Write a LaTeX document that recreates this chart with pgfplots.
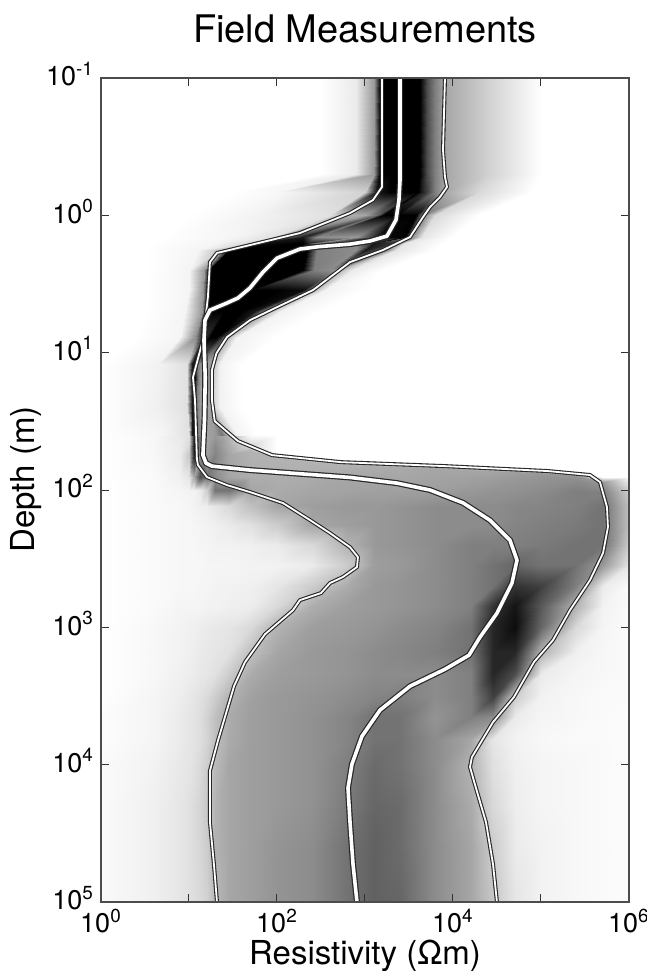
\documentclass[border=0pt]{standalone}
\usepackage{fontspec}
\setmainfont{TeX Gyre Heros}
\usepackage{pgfplots}
\usepackage{pgfplotstable}
\pgfplotsset{compat=1.18}
\pgfplotsset{colormap={bw}{gray(0cm)=(1); gray(1cm)=(0)}}

\pgfplotstableread{
x y
1560 0.1
1560 0.622
1233 0.774
676 0.962
182 1.346
20.8 1.88
17.3 2.19
16.4 3.94
14.4 8.09
11.1 15.1
11.7 22.1
12.3 59.6
12.65 65.9
16.0 80.5
27.0 92.1
49.3 103.5
117 124.5
237 165.5
400 206
676 261
832 308
811 364
562 430
400 476
316 563
182 634
152 750
73.1 1122
43.3 1791
32.5 2682
27 4010
21.4 6630
17.3 11100
17.3 26200
19.2 53000
20.8 100000
}\lbound

\pgfplotstableread{
x y
2500 0.1
2500 0.553
2432 0.774
2249 1.08
1778 1.416
1140 1.538
676 1.62
300 1.69
182 1.76
100 2.05
69.3 2.59
49.3 3.38
36.0 4.0
27.0 4.35
17.3 4.9
15.2 5.8
14.8 8.1
15.3 15.1
15.0 31
14.4 55.7
15.6 63.7
18.25 67
49.3 71.6
400 79
676 81
2312 89.1
5480 100
13000 124
26300 166
44400 232
53400 324
46800 477
31600 789
20300 1178
15200 1596
8110 2018
3245 2682
1479 4010
925 6200
711 9910
641 14800
676 26200
731 53000
811 100000
}\median

\pgfplotstableread{
x y
8110 0.1
7700 0.334
8110 0.526
8550 0.622
7110 0.736
5480 0.871
4560 1.03
3245 1.44
1600 1.79
676 2.19
257 3.5
100 4.66
49.3 5.8
27 7.7
20.5 10.1
18.2 13.4
18.2 22.1
19.6 31.5
36 44
87.7 55.7
534 62.7
8110 67
120000 72.8
360600 77.8
468000 87.5
562000 133
577000 186
507000 288
360600 453
213800 750
136800 1240
83200 1791
49300 3220
28500 4900
16400 8810
15600 10400
18250 14800
23700 26200
28500 53000
31600 100000
}\rbound

\begin{document}
\begin{tikzpicture}
\begin{axis}[
  scale only axis, width=264pt, height=412pt,
  xmode=log, ymode=log, log basis x=10, log basis y=10,
  xmin=1, xmax=1e6, ymin=0.1, ymax=1e5, y dir=reverse,
  xtick={1,10,100,1000,10000,100000,1000000},
  xticklabels={10\textsuperscript{0},,10\textsuperscript{2},,10\textsuperscript{4},,10\textsuperscript{6}},
  ytick={0.1,1,10,100,1000,10000,100000},
  yticklabels={10\textsuperscript{-1},10\textsuperscript{0},10\textsuperscript{1},10\textsuperscript{2},10\textsuperscript{3},10\textsuperscript{4},10\textsuperscript{5}},
  xminorticks=false,
  tick align=inside, major tick length=4pt, minor tick length=2pt,
  every tick/.style={black!80, line width=0.5pt},
  axis line style={black!70, line width=0.6pt},
  ticklabel style={font=\fontsize{13.5}{15}\selectfont},
  yticklabel style={yshift=2pt},
  colormap name=bw, point meta min=0, point meta max=1,
  axis on top,
  title={Field Measurements},
  every axis title/.style={at={(0.5,1)}, anchor=base, yshift=18pt, font=\fontsize{19}{22}\selectfont},
  xlabel={Resistivity (Ωm)},
  every axis x label/.style={at={(axis description cs:0.5,0)}, anchor=base, yshift=-31pt, font=\fontsize{16.5}{19}\selectfont},
  ylabel={Depth (m)},
  every axis y label/.style={at={(axis description cs:-0.142,0.513)}, rotate=90, anchor=center, font=\fontsize{16.5}{19}\selectfont},
]
% lower density field
\addplot[surf, shader=interp, mesh/cols=23, point meta=explicit] coordinates {
(1,40)[0] (3.981,40)[0.03] (7.943,40)[0.09] (10,40)[0.12] (11.48,40)[0.93] (13.18,40)[0.45] (15.85,40)[0.36] (19.95,40)[0.4] (28.18,40)[0.3] (50.12,40)[0.01] (100,40)[0] (251.2,40)[0] (631,40)[0] (1259,40)[0] (2512,40)[0] (6310,40)[0] (15849,40)[0] (28184,40)[0] (50119,40)[0] (100000,40)[0] (251189,40)[0] (501187,40)[0] (1000000,40)[0]
(1,47)[0] (3.981,47)[0.03] (7.943,47)[0.08] (10,47)[0.15] (11.48,47)[0.92] (13.18,47)[0.45] (15.85,47)[0.36] (19.95,47)[0.45] (28.18,47)[0.32] (50.12,47)[0.15] (100,54)[0] (251.2,58)[0] (631,61)[0] (1259,62)[0] (2512,63.3)[0] (6310,64.5)[0] (15849,66.3)[0] (28184,67.6)[0] (50119,68.7)[0] (100000,70)[0] (251189,73.5)[0] (501187,80)[0] (1000000,80)[0]
(1,55)[0] (3.981,55)[0.03] (7.943,55)[0.08] (10,55)[0.22] (11.48,55)[0.9] (13.18,55)[0.4] (15.85,55)[0.38] (19.95,55)[0.48] (28.18,55)[0.35] (50.12,52)[0.3] (100,58)[0.3] (251.2,62.5)[0.3] (631,65.5)[0.3] (1259,66.5)[0.32] (2512,68)[0.33] (6310,69.3)[0.35] (15849,71.3)[0.35] (28184,72.8)[0.35] (50119,74)[0.38] (100000,75.5)[0.4] (251189,79.5)[0.42] (501187,88)[0.4] (1000000,88)[0.08]
(1,80)[0] (3.981,80)[0.02] (7.943,80)[0.06] (10,80)[0.1] (11.48,80)[0.35] (13.18,80)[0.7] (15.85,80)[0.55] (19.95,80)[0.45] (28.18,80)[0.35] (50.12,80)[0.32] (100,80)[0.32] (251.2,80)[0.33] (631,80)[0.35] (1259,80)[0.35] (2512,80)[0.35] (6310,80)[0.36] (15849,80)[0.37] (28184,80)[0.38] (50119,80)[0.4] (100000,80)[0.42] (251189,85)[0.45] (501187,95)[0.45] (1000000,95)[0.15]
(1,100)[0] (3.981,100)[0.02] (7.943,100)[0.04] (10,100)[0.05] (11.48,100)[0.05] (13.18,100)[0.08] (15.85,100)[0.2] (19.95,100)[0.55] (28.18,100)[0.55] (50.12,100)[0.35] (100,100)[0.33] (251.2,100)[0.35] (631,100)[0.36] (1259,100)[0.37] (2512,100)[0.37] (6310,100)[0.38] (15849,100)[0.4] (28184,100)[0.42] (50119,100)[0.43] (100000,100)[0.45] (251189,100)[0.5] (501187,105)[0.5] (1000000,105)[0.2]
(1,130)[0] (3.981,130)[0.02] (7.943,130)[0.03] (10,130)[0.04] (11.48,130)[0.05] (13.18,130)[0.06] (15.85,130)[0.07] (19.95,130)[0.1] (28.18,130)[0.15] (50.12,130)[0.25] (100,130)[0.35] (251.2,130)[0.38] (631,130)[0.4] (1259,130)[0.4] (2512,130)[0.42] (6310,130)[0.45] (15849,130)[0.45] (28184,130)[0.45] (50119,130)[0.47] (100000,130)[0.48] (251189,130)[0.5] (501187,130)[0.55] (1000000,130)[0.25]
(1,180)[0] (3.981,180)[0.02] (7.943,180)[0.03] (10,180)[0.03] (11.48,180)[0.04] (13.18,180)[0.04] (15.85,180)[0.05] (19.95,180)[0.06] (28.18,180)[0.08] (50.12,180)[0.12] (100,180)[0.2] (251.2,180)[0.35] (631,180)[0.38] (1259,180)[0.4] (2512,180)[0.42] (6310,180)[0.45] (15849,180)[0.45] (28184,180)[0.45] (50119,180)[0.48] (100000,180)[0.5] (251189,180)[0.52] (501187,180)[0.55] (1000000,180)[0.25]
(1,250)[0] (3.981,250)[0.02] (7.943,250)[0.03] (10,250)[0.03] (11.48,250)[0.03] (13.18,250)[0.04] (15.85,250)[0.04] (19.95,250)[0.05] (28.18,250)[0.05] (50.12,250)[0.06] (100,250)[0.08] (251.2,250)[0.15] (631,250)[0.3] (1259,250)[0.4] (2512,250)[0.42] (6310,250)[0.45] (15849,250)[0.5] (28184,250)[0.5] (50119,250)[0.5] (100000,250)[0.52] (251189,250)[0.55] (501187,250)[0.55] (1000000,250)[0.2]
(1,350)[0] (3.981,350)[0.02] (7.943,350)[0.03] (10,350)[0.03] (11.48,350)[0.03] (13.18,350)[0.03] (15.85,350)[0.04] (19.95,350)[0.04] (28.18,350)[0.04] (50.12,350)[0.05] (100,350)[0.05] (251.2,350)[0.08] (631,350)[0.2] (1259,350)[0.38] (2512,350)[0.4] (6310,350)[0.45] (15849,350)[0.5] (28184,350)[0.55] (50119,350)[0.6] (100000,350)[0.55] (251189,350)[0.55] (501187,350)[0.4] (1000000,350)[0.1]
(1,500)[0] (3.981,500)[0.02] (7.943,500)[0.03] (10,500)[0.03] (11.48,500)[0.03] (13.18,500)[0.04] (15.85,500)[0.04] (19.95,500)[0.05] (28.18,500)[0.05] (50.12,500)[0.06] (100,500)[0.1] (251.2,500)[0.2] (631,500)[0.33] (1259,500)[0.4] (2512,500)[0.42] (6310,500)[0.45] (15849,500)[0.5] (28184,500)[0.55] (50119,500)[0.8] (100000,500)[0.75] (251189,500)[0.5] (501187,500)[0.08] (1000000,500)[0.02]
(1,700)[0] (3.981,700)[0.02] (7.943,700)[0.04] (10,700)[0.04] (11.48,700)[0.04] (13.18,700)[0.04] (15.85,700)[0.05] (19.95,700)[0.05] (28.18,700)[0.06] (50.12,700)[0.07] (100,700)[0.15] (251.2,700)[0.32] (631,700)[0.38] (1259,700)[0.4] (2512,700)[0.42] (6310,700)[0.45] (15849,700)[0.5] (28184,700)[0.8] (50119,700)[0.92] (100000,700)[0.65] (251189,700)[0.3] (501187,700)[0.05] (1000000,700)[0.02]
(1,1000)[0] (3.981,1000)[0.03] (7.943,1000)[0.05] (10,1000)[0.06] (11.48,1000)[0.06] (13.18,1000)[0.07] (15.85,1000)[0.08] (19.95,1000)[0.09] (28.18,1000)[0.1] (50.12,1000)[0.15] (100,1000)[0.3] (251.2,1000)[0.38] (631,1000)[0.4] (1259,1000)[0.42] (2512,1000)[0.45] (6310,1000)[0.48] (15849,1000)[0.55] (28184,1000)[0.85] (50119,1000)[0.95] (100000,1000)[0.6] (251189,1000)[0.15] (501187,1000)[0.04] (1000000,1000)[0.02]
(1,1500)[0] (3.981,1500)[0.03] (7.943,1500)[0.05] (10,1500)[0.06] (11.48,1500)[0.07] (13.18,1500)[0.08] (15.85,1500)[0.09] (19.95,1500)[0.1] (28.18,1500)[0.12] (50.12,1500)[0.25] (100,1500)[0.35] (251.2,1500)[0.4] (631,1500)[0.42] (1259,1500)[0.45] (2512,1500)[0.47] (6310,1500)[0.5] (15849,1500)[0.55] (28184,1500)[0.85] (50119,1500)[0.85] (100000,1500)[0.3] (251189,1500)[0.06] (501187,1500)[0.03] (1000000,1500)[0.02]
(1,2200)[0] (3.981,2200)[0.03] (7.943,2200)[0.06] (10,2200)[0.07] (11.48,2200)[0.08] (13.18,2200)[0.09] (15.85,2200)[0.1] (19.95,2200)[0.12] (28.18,2200)[0.2] (50.12,2200)[0.33] (100,2200)[0.38] (251.2,2200)[0.4] (631,2200)[0.42] (1259,2200)[0.45] (2512,2200)[0.45] (6310,2200)[0.45] (15849,2200)[0.5] (28184,2200)[0.85] (50119,2200)[0.7] (100000,2200)[0.08] (251189,2200)[0.04] (501187,2200)[0.03] (1000000,2200)[0.02]
(1,3200)[0] (3.981,3200)[0.04] (7.943,3200)[0.07] (10,3200)[0.09] (11.48,3200)[0.1] (13.18,3200)[0.12] (15.85,3200)[0.15] (19.95,3200)[0.2] (28.18,3200)[0.3] (50.12,3200)[0.37] (100,3200)[0.4] (251.2,3200)[0.42] (631,3200)[0.45] (1259,3200)[0.48] (2512,3200)[0.5] (6310,3200)[0.45] (15849,3200)[0.5] (28184,3200)[0.75] (50119,3200)[0.2] (100000,3200)[0.05] (251189,3200)[0.03] (501187,3200)[0.02] (1000000,3200)[0.02]
(1,4500)[0.01] (3.981,4500)[0.04] (7.943,4500)[0.08] (10,4500)[0.1] (11.48,4500)[0.11] (13.18,4500)[0.13] (15.85,4500)[0.18] (19.95,4500)[0.25] (28.18,4500)[0.33] (50.12,4500)[0.38] (100,4500)[0.4] (251.2,4500)[0.43] (631,4500)[0.48] (1259,4500)[0.55] (2512,4500)[0.55] (6310,4500)[0.42] (15849,4500)[0.5] (28184,4500)[0.45] (50119,4500)[0.08] (100000,4500)[0.04] (251189,4500)[0.03] (501187,4500)[0.02] (1000000,4500)[0.01]
(1,6500)[0.01] (3.981,6500)[0.04] (7.943,6500)[0.08] (10,6500)[0.1] (11.48,6500)[0.11] (13.18,6500)[0.13] (15.85,6500)[0.17] (19.95,6500)[0.25] (28.18,6500)[0.33] (50.12,6500)[0.38] (100,6500)[0.4] (251.2,6500)[0.43] (631,6500)[0.48] (1259,6500)[0.55] (2512,6500)[0.55] (6310,6500)[0.45] (15849,6500)[0.35] (28184,6500)[0.1] (50119,6500)[0.05] (100000,6500)[0.03] (251189,6500)[0.02] (501187,6500)[0.02] (1000000,6500)[0.01]
(1,10000)[0.02] (3.981,10000)[0.05] (7.943,10000)[0.09] (10,10000)[0.1] (11.48,10000)[0.12] (13.18,10000)[0.15] (15.85,10000)[0.2] (19.95,10000)[0.27] (28.18,10000)[0.35] (50.12,10000)[0.38] (100,10000)[0.4] (251.2,10000)[0.43] (631,10000)[0.5] (1259,10000)[0.58] (2512,10000)[0.55] (6310,10000)[0.45] (15849,10000)[0.3] (28184,10000)[0.12] (50119,10000)[0.06] (100000,10000)[0.04] (251189,10000)[0.03] (501187,10000)[0.02] (1000000,10000)[0.01]
(1,20000)[0.02] (3.981,20000)[0.06] (7.943,20000)[0.1] (10,20000)[0.12] (11.48,20000)[0.14] (13.18,20000)[0.17] (15.85,20000)[0.22] (19.95,20000)[0.3] (28.18,20000)[0.35] (50.12,20000)[0.38] (100,20000)[0.4] (251.2,20000)[0.43] (631,20000)[0.52] (1259,20000)[0.6] (2512,20000)[0.58] (6310,20000)[0.45] (15849,20000)[0.33] (28184,20000)[0.15] (50119,20000)[0.07] (100000,20000)[0.04] (251189,20000)[0.03] (501187,20000)[0.02] (1000000,20000)[0.01]
(1,40000)[0.02] (3.981,40000)[0.06] (7.943,40000)[0.1] (10,40000)[0.12] (11.48,40000)[0.14] (13.18,40000)[0.16] (15.85,40000)[0.2] (19.95,40000)[0.3] (28.18,40000)[0.35] (50.12,40000)[0.38] (100,40000)[0.42] (251.2,40000)[0.45] (631,40000)[0.55] (1259,40000)[0.62] (2512,40000)[0.58] (6310,40000)[0.45] (15849,40000)[0.35] (28184,40000)[0.2] (50119,40000)[0.08] (100000,40000)[0.05] (251189,40000)[0.03] (501187,40000)[0.02] (1000000,40000)[0.01]
(1,100000)[0.02] (3.981,100000)[0.06] (7.943,100000)[0.1] (10,100000)[0.12] (11.48,100000)[0.13] (13.18,100000)[0.15] (15.85,100000)[0.18] (19.95,100000)[0.28] (28.18,100000)[0.35] (50.12,100000)[0.38] (100,100000)[0.42] (251.2,100000)[0.45] (631,100000)[0.55] (1259,100000)[0.62] (2512,100000)[0.6] (6310,100000)[0.45] (15849,100000)[0.35] (28184,100000)[0.22] (50119,100000)[0.1] (100000,100000)[0.05] (251189,100000)[0.03] (501187,100000)[0.02] (1000000,100000)[0.01]
};
% upper density band
\addplot[surf, shader=interp, mesh/cols=12, point meta=explicit] coordinates {
(316.2,0.1)[0] (794.3,0.1)[0.08] (1259,0.1)[0.4] (1479,0.1)[1] (1995,0.1)[1] (2818,0.1)[1] (4169,0.1)[1] (5012,0.1)[0.7] (6310,0.1)[0.5] (8128,0.1)[0.35] (25119,0.1)[0.18] (100000,0.1)[0]
(316.2,0.5)[0] (794.3,0.5)[0.08] (1259,0.5)[0.4] (1479,0.5)[1] (1995,0.5)[1] (2818,0.5)[1] (4169,0.5)[1] (5012,0.5)[0.7] (6310,0.5)[0.5] (8128,0.5)[0.35] (25119,0.5)[0.18] (100000,0.5)[0]
(31.62,0.68)[0] (100,0.68)[0.03] (1000,0.68)[0.18] (1349,0.68)[0.9] (1995,0.68)[1] (2818,0.68)[1] (3981,0.68)[1] (4786,0.68)[0.8] (6310,0.68)[0.5] (7762,0.68)[0.35] (19953,0.68)[0.15] (79433,0.68)[0]
(10,1)[0] (63.10,1)[0.05] (398.1,1)[0.12] (575.4,1)[0.3] (1000,1)[0.35] (1380,1)[0.6] (1585,1)[1] (2344,1)[1] (3802,1)[1] (4467,1)[0.55] (6310,1)[0.15] (19953,1)[0]
(5.012,1.44)[0] (31.62,1.44)[0.04] (89.13,1.44)[0.12] (117.5,1.44)[0.6] (199.5,1.44)[0.9] (281.8,1.44)[0.45] (794.3,1.44)[0.4] (1479,1.44)[0.95] (2818,1.44)[1] (3236,1.44)[0.5] (4467,1.44)[0.1] (10000,1.44)[0]
(3.548,1.6)[0] (19.95,1.6)[0.04] (47.86,1.6)[0.15] (60.26,1.6)[0.95] (199.5,1.6)[1] (218.8,1.6)[0.9] (281.8,1.6)[0.45] (794.3,1.6)[0.45] (1259,1.6)[0.9] (1995,1.6)[0.8] (2818,1.6)[0.1] (7943,1.6)[0]
(3.162,1.8)[0] (12.59,1.8)[0.04] (22.39,1.8)[0.25] (28.18,1.8)[1] (177.8,1.8)[1] (218.8,1.8)[1] (281.8,1.8)[0.5] (794.3,1.8)[0.45] (1000,1.8)[0.9] (1585,1.8)[0.6] (2239,1.8)[0.1] (6310,1.8)[0]
(3.162,2.5)[0] (10,2.5)[0.04] (14.79,2.5)[0.4] (16.98,2.5)[1] (75.86,2.5)[1] (199.5,2.5)[1] (263.0,2.5)[0.5] (398.1,2.5)[0.45] (478.6,2.5)[0.4] (512.9,2.5)[0.3] (707.9,2.5)[0.08] (1585,2.5)[0]
(3.162,3.5)[0] (10,3.5)[0.04] (14.45,3.5)[0.4] (16.60,3.5)[1] (31.62,3.5)[1] (50.12,3.5)[1] (100,3.5)[1] (199.5,3.5)[0.95] (234.4,3.5)[0.6] (257.0,3.5)[0.3] (354.8,3.5)[0.05] (1000,3.5)[0]
(3.162,5)[0] (8.913,5)[0.04] (14.13,5)[0.4] (15.85,5)[1] (17.78,5)[1] (25.12,5)[1] (39.81,5)[1] (56.23,5)[0.9] (70.79,5)[0.5] (79.43,5)[0.3] (112.2,5)[0.05] (316.2,5)[0]
(2.512,7.7)[0] (7.943,7.7)[0.04] (12.02,7.7)[0.45] (14.45,7.7)[0.9] (15.31,7.7)[0.8] (17.38,7.7)[1] (20.89,7.7)[1] (23.99,7.7)[0.8] (25.70,7.7)[0.5] (26.92,7.7)[0.3] (35.48,7.7)[0.05] (100,7.7)[0]
(1,12)[0] (4.467,12)[0.05] (9.550,12)[0.12] (10.96,12)[0.9] (11.75,12)[0.95] (12.59,12)[0.5] (14.13,12)[0.35] (15.85,12)[0.35] (16.98,12)[0.4] (18.20,12)[0.25] (22.39,12)[0.05] (39.81,12)[0]
(1,25)[0] (4.467,25)[0.06] (9.550,25)[0.12] (10.72,25)[0.9] (11.48,25)[0.95] (12.30,25)[0.5] (13.80,25)[0.35] (15.49,25)[0.35] (16.98,25)[0.35] (18.20,25)[0.2] (22.39,25)[0.05] (39.81,25)[0]
(1,40)[0] (5.012,40)[0.04] (10,40)[0.12] (10.96,40)[0.9] (11.75,40)[0.95] (12.59,40)[0.5] (14.79,40)[0.35] (19.95,40)[0.4] (23.99,40)[0.55] (29.51,40)[0.2] (35.48,40)[0.05] (63.10,40)[0]
};
% percentile curves
\addplot[black!85, line width=2pt, line join=round] table {\lbound};
\addplot[white, line width=0.9pt, line join=round] table {\lbound};
\addplot[black!85, line width=2pt, line join=round] table {\rbound};
\addplot[white, line width=0.9pt, line join=round] table {\rbound};
\addplot[black!85, line width=3pt, line join=round] table {\median};
\addplot[white, line width=1.8pt, line join=round] table {\median};
\end{axis}
\pgfresetboundingbox
\path[use as bounding box] (-50.5pt,-34.5pt) rectangle (273pt,451pt);
\end{tikzpicture}
\end{document}
